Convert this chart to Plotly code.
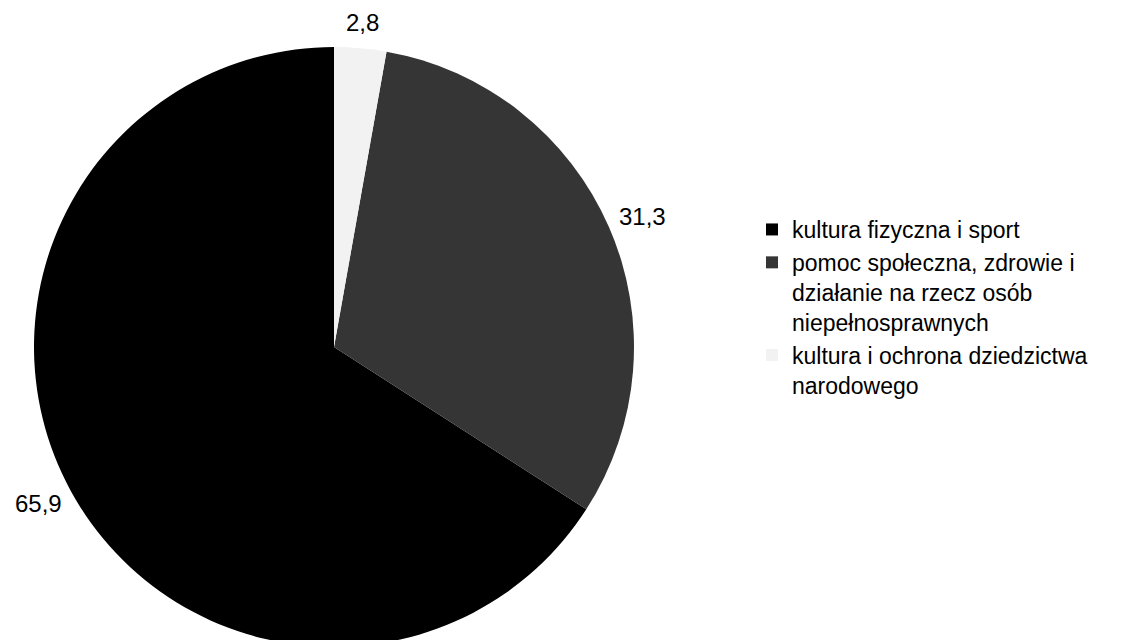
import math
import plotly.graph_objects as go

categories = [
    "kultura fizyczna i sport",
    "pomoc społeczna, zdrowie i<br>działanie na rzecz osób<br>niepełnosprawnych",
    "kultura i ochrona dziedzictwa<br>narodowego",
]
values = [65.9, 31.3, 2.8]
colors = ["#000000", "#353535", "#f2f2f2"]

W, H = 1122, 660
cx, cy, r = 334, 347, 300  # pixel centre/radius of pie
label_font = 24
label_gap = 13

total = sum(values)
# first slice (black) ends at the boundary after the other two (counterclockwise layout)
rotation = 360.0 * (values[1] + values[2]) / total

fig = go.Figure(go.Pie(
    labels=categories,
    values=values,
    sort=False,
    direction="counterclockwise",
    rotation=rotation,
    marker=dict(colors=colors, line=dict(width=0)),
    textinfo="none",
    domain=dict(x=[(cx - r) / W, (cx + r) / W],
                y=[(H - cy - r) / H, (H - cy + r) / H]),
    showlegend=True,
    automargin=False,
    hoverinfo="label+value",
))

# data labels placed outside each slice, centred on the slice's mid-angle (Excel style)
def text_width(s, size):
    w = 0.0
    for ch in s:
        w += 0.278 if ch in ",." else 0.556
    return w * size

angles = [v / total * 360.0 for v in values]
mids = []
for i, a in enumerate(angles):
    if i == 0:
        mids.append(rotation + a / 2)
    else:
        mids.append(rotation - (sum(angles[1:i]) + a / 2))

annotations = []
for v, m in zip(values, mids):
    t = f"{v:.1f}".replace(".", ",")
    th = math.radians(m)
    s, c = math.sin(th), math.cos(th)
    w = text_width(t, label_font)
    h = label_font * 1.1
    px = cx + s * (r + label_gap) + s * w / 2
    py = cy - c * (r + label_gap) - c * h / 2
    annotations.append(dict(
        x=px / W, y=1 - py / H, xref="paper", yref="paper",
        text=t, showarrow=False, xanchor="center", yanchor="middle",
        font=dict(family="Liberation Sans, Arial, sans-serif", size=label_font, color="#000000"),
    ))

fig.update_layout(
    width=W, height=H,
    margin=dict(l=0, r=0, t=0, b=0),
    paper_bgcolor="white",
    plot_bgcolor="white",
    separators=", ",
    font=dict(family="Liberation Sans, Arial, sans-serif", size=23, color="#000000"),
    annotations=annotations,
    legend=dict(
        x=752 / W, xanchor="left",
        y=1 - 208 / H, yanchor="top",
        font=dict(size=23),
        bgcolor="rgba(0,0,0,0)",
        traceorder="normal",
        valign="top",
        itemsizing="constant",
    ),
)

fig.write_html("out.html",
               config={"displayModeBar": False},
               post_script="document.body.style.margin='0';document.body.style.overflow='hidden';document.documentElement.style.overflow='hidden';")
